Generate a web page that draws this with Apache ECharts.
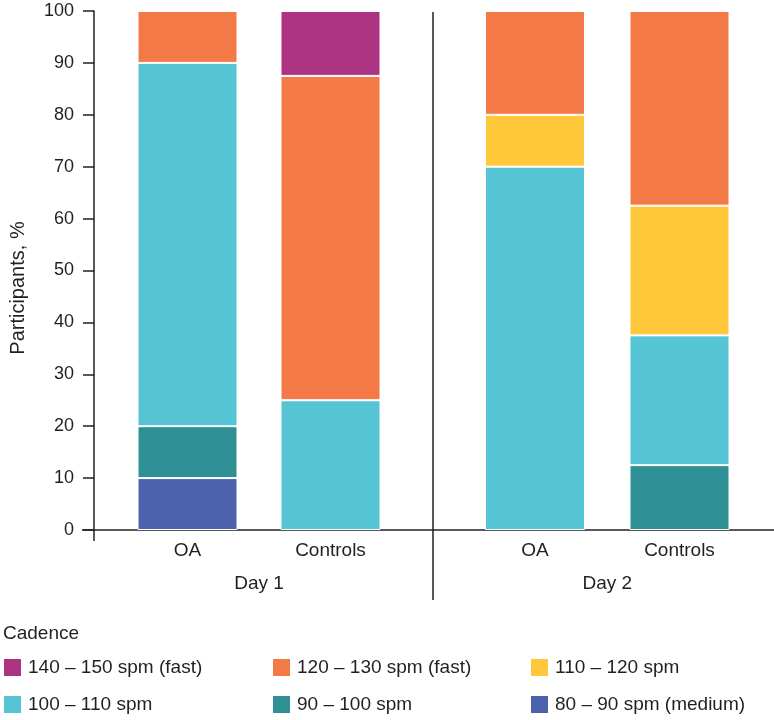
<!DOCTYPE html>
<html>
<head>
<meta charset="utf-8">
<script src="https://cdn.jsdelivr.net/npm/echarts@6/dist/echarts.min.js"></script>
<style>html,body{margin:0;padding:0;background:#fff}#chart{width:774px;height:720px}</style>
</head>
<body>
<div id="chart"></div>
<script>
// ---- Data ----
const groups = ['OA', 'Controls'];
const days = ['Day 1', 'Day 2'];
const yTicks = [0, 10, 20, 30, 40, 50, 60, 70, 80, 90, 100];
const bandNames = ['80 – 90 spm (medium)', '90 – 100 spm', '100 – 110 spm', '110 – 120 spm', '120 – 130 spm (fast)', '140 – 150 spm (fast)'];
// values per day: [OA, Controls]
const day1_80_90 = [10, 0];
const day1_90_100 = [10, 0];
const day1_100_110 = [70, 25];
const day1_110_120 = [0, 0];
const day1_120_130 = [10, 62.5];
const day1_140_150 = [0, 12.5];
const day2_80_90 = [0, 0];
const day2_90_100 = [0, 12.5];
const day2_100_110 = [70, 25];
const day2_110_120 = [10, 25];
const day2_120_130 = [20, 37.5];
const day2_140_150 = [0, 0];
const legendTitle = 'Cadence';
const yTitle = 'Participants, %';

const bandColors = ['#4C62AC', '#2E9095', '#55C5D5', '#FFC73A', '#F37A47', '#AD3383'];
const day1Sets = [day1_80_90, day1_90_100, day1_100_110, day1_110_120, day1_120_130, day1_140_150];
const day2Sets = [day2_80_90, day2_90_100, day2_100_110, day2_110_120, day2_120_130, day2_140_150];

const FONT = 'Liberation Sans, Arial, Helvetica, sans-serif';
const TXT = '#231f20';

function mkSeries(sets, idx) {
  return sets.map((vals, i) => ({
    name: bandNames[i],
    type: 'bar',
    stack: 'day' + idx,
    xAxisIndex: idx,
    yAxisIndex: idx,
    barWidth: 100,
    data: vals.map(v => v === 0 ? null : v),
    itemStyle: { color: bandColors[i], borderColor: '#ffffff', borderWidth: 1 },
    emphasis: { disabled: true }
  }));
}

const chart = echarts.init(document.getElementById('chart'), null, { renderer: 'canvas' });

const xAxisBase = (gi) => ({
  type: 'category',
  gridIndex: gi,
  data: groups,
  axisLine: { show: false },
  axisTick: { show: false },
  axisLabel: { color: TXT, fontSize: 19, fontFamily: FONT, margin: 11 },
  name: days[gi],
  nameLocation: 'middle',
  nameGap: 44,
  nameTextStyle: { color: TXT, fontSize: 19, fontFamily: FONT }
});

const legendBase = (left, data) => ({
  orient: 'vertical',
  left: left,
  top: 658,
  padding: 0,
  itemWidth: 17,
  itemHeight: 17,
  itemGap: 18,
  icon: 'rect',
  selectedMode: false,
  data: data,
  textStyle: { color: TXT, fontSize: 19, fontFamily: FONT, padding: [0, 0, 0, 2] },
  itemStyle: { borderWidth: 0 }
});

chart.setOption({
  animation: false,
  backgroundColor: '#ffffff',
  grid: [
    { left: 116, width: 286, top: 11, bottom: 190 },
    { left: 462.75, width: 289, top: 11, bottom: 190 }
  ],
  xAxis: [xAxisBase(0), xAxisBase(1)],
  yAxis: [
    {
      type: 'value', gridIndex: 0, min: yTicks[0], max: yTicks[yTicks.length - 1], interval: 10,
      offset: 22,
      axisLine: { show: true, lineStyle: { color: '#231f20', width: 1.5 } },
      axisTick: { show: true, length: 11, inside: false, lineStyle: { color: '#231f20', width: 1.5 } },
      axisLabel: { color: TXT, fontSize: 18, fontFamily: FONT, margin: 20 },
      splitLine: { show: false }
    },
    {
      type: 'value', gridIndex: 1, min: yTicks[0], max: yTicks[yTicks.length - 1], interval: 10,
      show: false
    }
  ],
  legend: [
    legendBase(4, [bandNames[5], bandNames[2]]),
    legendBase(273, [bandNames[4], bandNames[1]]),
    legendBase(531, [bandNames[3], bandNames[0]])
  ],
  graphic: [
    { type: 'line', shape: { x1: 82, y1: 530, x2: 774, y2: 530 }, style: { stroke: '#231f20', lineWidth: 1.5 } },
    { type: 'line', shape: { x1: 94, y1: 530, x2: 94, y2: 541 }, style: { stroke: '#231f20', lineWidth: 1.5 } },
    { type: 'line', shape: { x1: 433, y1: 12, x2: 433, y2: 600 }, style: { stroke: '#231f20', lineWidth: 1.5 } },
    { type: 'text', left: 3, top: 624, style: { text: legendTitle, fill: TXT, font: '19px ' + FONT } },
    { type: 'text', x: 18, y: 288, rotation: Math.PI / 2,
      style: { text: yTitle, fill: TXT, font: '20px ' + FONT, align: 'center', verticalAlign: 'middle' } }
  ],
  series: [...mkSeries(day1Sets, 0), ...mkSeries(day2Sets, 1)]
});
</script>
</body>
</html>
